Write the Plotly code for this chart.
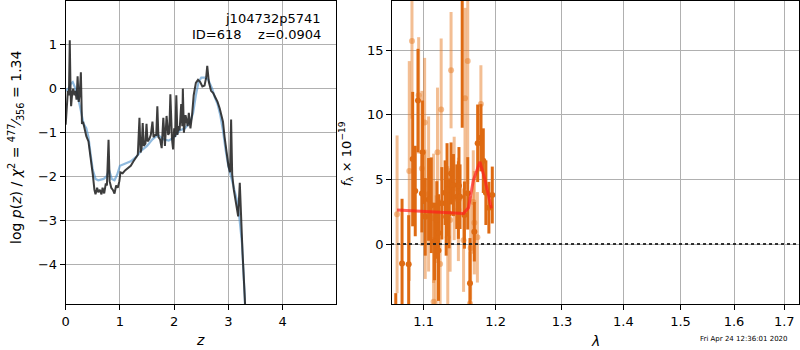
import plotly.graph_objects as go

# ---------------- left panel: log p(z) ----------------
z_black = [0.00, 0.02, 0.04, 0.06, 0.075, 0.09, 0.10, 0.12, 0.14, 0.16, 0.18, 0.20, 0.22, 0.24, 0.26, 0.28,
           0.30, 0.32, 0.35, 0.38, 0.42, 0.46, 0.50, 0.53, 0.55, 0.58, 0.60, 0.63, 0.66, 0.68, 0.71, 0.74,
           0.76, 0.79, 0.81, 0.84, 0.87, 0.90, 0.93, 0.96, 0.99, 1.01, 1.05, 1.10, 1.15, 1.20, 1.25, 1.30,
           1.33, 1.36, 1.38, 1.40, 1.42, 1.44, 1.47, 1.49, 1.51, 1.54, 1.57, 1.60, 1.62, 1.65, 1.67, 1.69,
           1.71, 1.74, 1.77, 1.80, 1.83, 1.86, 1.89, 1.91, 1.93, 1.96, 1.98, 2.00, 2.02, 2.04, 2.06, 2.08,
           2.10, 2.13, 2.15, 2.16, 2.18, 2.21, 2.23, 2.25, 2.27, 2.30, 2.33, 2.36, 2.40, 2.44, 2.48, 2.52,
           2.56, 2.59, 2.61, 2.64, 2.68, 2.72, 2.76, 2.80, 2.84, 2.88, 2.90, 2.93, 2.97, 3.00, 3.03, 3.05,
           3.07, 3.10, 3.14, 3.18, 3.21, 3.23, 3.26, 3.31, 3.33]
lp_black = [-0.82, -0.30, -0.05, -0.15, 1.10, -0.05, -0.40, -0.10, 0.00, -0.15, -0.05, -0.25, 0.28, -0.30, -0.10, 0.37,
            -0.80, -0.75, -0.95, -1.08, -1.20, -1.55, -1.95, -2.30, -2.40, -2.25, -2.35, -2.30, -2.40, -2.25, -2.38, -2.15,
            -2.20, -1.16, -2.10, -2.25, -2.30, -2.38, -2.20, -2.25, -2.10, -1.90, -1.92, -1.85, -1.80, -1.75, -1.65, -1.55,
            -1.50, -0.66, -1.45, -1.35, -0.78, -1.30, -1.25, -0.80, -1.20, -1.15, -1.05, -0.75, -1.10, -1.05, -1.05, -0.40,
            -1.10, -1.15, -1.35, -0.66, -1.30, -0.62, -1.05, -1.00, -0.13, -1.15, -1.38, -0.90, -1.10, -0.15, -1.05, -0.85,
            -0.95, -0.35, -0.85, 0.00, -1.00, -0.60, -0.75, -0.85, -0.55, -0.90, -0.60, -0.15, 0.13, 0.20, 0.15, 0.05,
            0.07, 0.25, 0.52, 0.15, -0.05, -0.10, -0.20, -0.30, -0.45, -0.70, -0.75, -1.10, -1.50, -1.75, -1.90, -0.70,
            -1.95, -2.30, -2.60, -2.90, -2.14, -2.95, -3.70, -4.95, -5.50]

z_blue = [0.00, 0.05, 0.10, 0.13, 0.18, 0.22, 0.28, 0.33, 0.38, 0.42, 0.46, 0.50, 0.55, 0.60, 0.70, 0.75,
          0.80, 0.85, 0.90, 0.95, 1.00, 1.10, 1.20, 1.30, 1.40, 1.50, 1.60, 1.70, 1.80, 1.90, 2.00, 2.10,
          2.20, 2.30, 2.35, 2.40, 2.45, 2.50, 2.58, 2.63, 2.70, 2.75, 2.80, 2.85, 2.90, 2.95, 3.00, 3.05,
          3.10, 3.15, 3.20, 3.25, 3.30, 3.32]
lp_blue = [-0.05, 0.00, 0.12, 0.15, 0.00, -0.15, -0.50, -0.80, -0.90, -1.10, -1.50, -1.85, -2.05, -2.08, -2.05, -2.00,
           -1.85, -2.05, -2.08, -1.95, -1.75, -1.70, -1.65, -1.55, -1.40, -1.30, -1.15, -1.05, -1.15, -1.18, -1.10, -0.95,
           -0.90, -0.75, -0.55, -0.15, 0.15, 0.25, 0.25, 0.20, 0.00, -0.20, -0.35, -0.60, -0.95, -1.40, -1.77, -2.00,
           -2.25, -2.50, -2.90, -3.50, -4.70, -5.50]

z_ticks = [0, 1, 2, 3, 4]
lp_ticks = [-4, -3, -2, -1, 0, 1]

# ---------------- right panel: spectrum ----------------
lam_dark = [1.0637, 1.0718, 1.0804, 1.0856, 1.0890, 1.0926, 1.0978, 1.0987, 1.1022, 1.1067, 1.1103, 1.1147,
            1.1177, 1.1200, 1.1200, 1.1245, 1.1290, 1.1304, 1.1316, 1.1343, 1.1371, 1.1404, 1.1450, 1.1472,
            1.1480, 1.1495, 1.1525, 1.1556, 1.1602, 1.1634, 1.1695, 1.1742, 1.1788, 1.1822, 1.1859, 1.1902,
            1.1951]
f_dark = [-8.0, -1.5, -1.57, 6.57, 4.10, 11.10, 3.90, 7.10, 2.10, 3.45, 3.00, 0.20,
          1.86, -0.50, 0.85, 3.15, 3.97, 2.10, 4.20, 2.37, 5.46, 4.56, 3.66, 3.40,
          4.50, 3.66, 19.5, 2.24, 3.92, -3.04, 0.95, 7.79, 8.22, 6.45, 3.97, 2.81,
          3.79]
e_dark = [4.2, 5.0, 3.8, 5.2, 3.5, 4.0, 3.0, 4.0, 3.0, 3.2, 3.7, 3.0,
          3.0, 3.9, 3.0, 2.8, 2.5, 3.0, 3.6, 2.7, 2.4, 2.4, 2.5, 3.0,
          3.0, 2.5, 10.5, 2.6, 2.8, 3.5, 2.3, 3.0, 2.6, 2.5, 2.5, 2.0,
          2.2]

lam_pale = [1.0654, 1.0812, 1.0847, 1.0935, 1.0978, 1.1014, 1.1022, 1.1067, 1.1134, 1.1134, 1.1168, 1.1186,
            1.1222, 1.1236, 1.1326, 1.1358, 1.1371, 1.1414, 1.1472, 1.1544, 1.1564, 1.1602, 1.1634, 1.1643,
            1.1680, 1.1695, 1.1738, 1.1788]
f_pale = [2.3, 5.65, 15.7, 11.5, 5.85, 9.4, 2.3, 3.87, 1.99, -4.46, -1.24, 7.1,
          -1.55, 10.4, 0.52, 1.86, 13.45, 4.3, 2.68, 0.3, 11.27, 14.15, -4.6, -0.31,
          3.25, 1.65, 0.52, 10.83]
e_pale = [6.1, 8.5, 6.0, 4.5, 6.0, 5.0, 5.0, 6.0, 5.0, 5.0, 5.0, 5.0,
          5.0, 5.5, 5.5, 4.0, 4.5, 4.0, 4.0, 4.0, 7.0, 9.5, 4.0, 4.0,
          4.0, 4.0, 3.5, 3.0]

lam_model = [1.0654, 1.1544, 1.1612, 1.1680, 1.1774, 1.1845, 1.1938]
f_model = [2.63, 2.37, 2.80, 4.90, 6.36, 5.00, 2.76]

lam_ticks = [1.1, 1.2, 1.3, 1.4, 1.5, 1.6, 1.7]
lam_ticktext = ["1.1", "1.2", "1.3", "1.4", "1.5", "1.6", "1.7"]
f_ticks = [0, 5, 10, 15]

FONT = "DejaVu Sans"
DARK = "rgb(222,106,18)"
PALE = "rgba(232,125,40,0.5)"

fig = go.Figure()

fig.add_trace(go.Scatter(x=z_blue, y=lp_blue, mode="lines",
                         line=dict(color="rgba(70,140,200,0.6)", width=2.2),
                         xaxis="x", yaxis="y", showlegend=False))
fig.add_trace(go.Scatter(x=z_black, y=lp_black, mode="lines",
                         line=dict(color="rgba(40,40,40,0.9)", width=2),
                         xaxis="x", yaxis="y", showlegend=False))

fig.add_trace(go.Scatter(x=lam_pale, y=f_pale, mode="markers",
                         marker=dict(color=PALE, size=6),
                         error_y=dict(type="data", array=e_pale, color=PALE, thickness=3, width=0),
                         xaxis="x2", yaxis="y2", showlegend=False))
fig.add_trace(go.Scatter(x=lam_dark, y=f_dark, mode="markers",
                         marker=dict(color=DARK, size=6),
                         error_y=dict(type="data", array=e_dark, color=DARK, thickness=3, width=0),
                         xaxis="x2", yaxis="y2", showlegend=False))
fig.add_trace(go.Scatter(x=[1.05, 1.75], y=[0, 0], mode="lines",
                         line=dict(color="rgba(30,30,30,0.9)", width=2, dash="dot"),
                         xaxis="x2", yaxis="y2", showlegend=False))
fig.add_trace(go.Scatter(x=lam_model, y=f_model, mode="lines",
                         line=dict(color="rgba(255,30,30,0.7)", width=3),
                         xaxis="x2", yaxis="y2", showlegend=False))

axis_common = dict(showline=True, linecolor="black", linewidth=1, mirror=True,
                   ticks="outside", ticklen=5, tickcolor="black",
                   showgrid=True, gridcolor="#b0b0b0", gridwidth=1, zeroline=False,
                   tickfont=dict(family=FONT, size=13, color="black"))

fig.update_layout(
    width=800, height=350,
    margin=dict(l=0, r=0, t=0, b=0),
    paper_bgcolor="white", plot_bgcolor="white",
    xaxis=dict(domain=[62/800, 334/800], range=[0, 4.99], tickvals=z_ticks, anchor="y", **axis_common),
    yaxis=dict(domain=[46/350, 349/350], range=[-4.89, 1.99], tickvals=lp_ticks, anchor="x", **axis_common),
    xaxis2=dict(domain=[390/800, 799/800], type="log", range=[0.02487, 0.23817],
                tickvals=lam_ticks, ticktext=lam_ticktext, anchor="y2", **axis_common),
    yaxis2=dict(domain=[46/350, 349/350], range=[-4.64, 18.8], tickvals=f_ticks, anchor="x2", **axis_common),
)

ann = [
    dict(text="log <i>p</i>(<i>z</i>) / <i>χ</i><sup>2</sup> = <sup>477</sup>⁄<sub>356</sub> = 1.34",
         x=12/800, y=1-147/350, textangle=-90, font=dict(size=14)),
    dict(text="<i>f</i><sub>λ</sub> × 10<sup>−19</sup>", x=344/800, y=1-154/350, textangle=-90, font=dict(size=13)),
    dict(text="<i>z</i>", x=197/800, y=1-340/350, font=dict(size=14)),
    dict(text="<i>λ</i>", x=594/800, y=1-341/350, font=dict(size=14)),
    dict(text="j104732p5741", x=321/800, y=1-19/350, xanchor="right", font=dict(size=13)),
    dict(text="ID=618\u00a0\u00a0\u00a0\u00a0z=0.0904", x=321/800, y=1-35/350, xanchor="right", font=dict(size=13)),
    dict(text="Fri Apr 24 12:36:01 2020", x=744/800, y=1-339/350, font=dict(size=7)),
]
for a in ann:
    a.setdefault("xanchor", "center")
    a.update(xref="paper", yref="paper", showarrow=False, yanchor="middle")
    a["font"].update(family=FONT, color="black")
    fig.add_annotation(**a)

fig.write_html("out.html", config={"displayModeBar": False},
               post_script="document.body.style.margin='0px';document.body.style.overflow='hidden';")
